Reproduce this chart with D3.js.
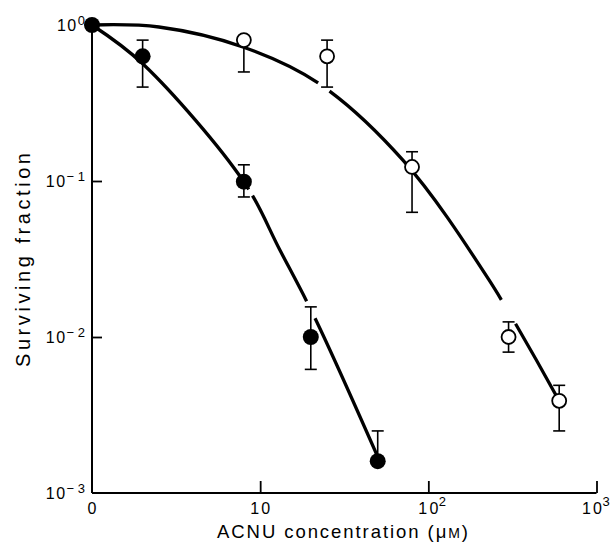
<!DOCTYPE html>
<html>
<head>
<meta charset="utf-8">
<script src="https://cdn.jsdelivr.net/npm/d3@7"></script>
<style>
  html, body { margin: 0; padding: 0; background: #fff; }
  svg { display: block; }
  text { font-family: "Liberation Sans", Arial, Helvetica, sans-serif; fill: #000; }
</style>
</head>
<body>
<svg id="chart" width="612" height="550"></svg>
<script>
// ---------------- data ----------------
// concentration 0 is plotted at the left end of the log axis (value 1)
const filledConc  = [1, 2, 8, 20, 50];
const filledSF    = [1.0, 0.63, 0.099, 0.010, 0.0016];
const filledErrHi = [1.0, 0.80, 0.127, 0.0156, 0.0025];
const filledErrLo = [1.0, 0.40, 0.079, 0.0062, 0.0016];

const openConc  = [8, 25, 80, 300, 600];
const openSF    = [0.80, 0.63, 0.123, 0.010, 0.0039];
const openErrHi = [0.80, 0.80, 0.154, 0.0125, 0.0049];
const openErrLo = [0.50, 0.40, 0.063, 0.0080, 0.0025];

// fitted curves
const filledCurveConc = [1, 2.01, 8.0, 13.1, 21.2, 49.5];
const filledCurveSF   = [1, 0.562, 0.0987, 0.0361, 0.0132, 0.00175];
const openCurveConc = [1, 2.5, 7.9, 22.1, 70.6, 229, 582];
const openCurveSF   = [1, 0.971, 0.723, 0.425, 0.136, 0.0233, 0.00412];
// breaks in the curves (concentration ranges)
const filledGaps = [[8.55, 9.0], [18.9, 21.2]];
const openGaps   = [[22.1, 25.9], [272, 330]];

const xTickValues = [1, 10, 100, 1000];
const xTickBase   = ["0", "10", "10", "10"];
const xTickExp    = ["", "", "2", "3"];
const yTickValues = [1, 0.1, 0.01, 0.001];
const yTickExp    = ["0", "\u2212 1", "\u2212 2", "\u2212 3"];

const xTitle = "ACNU concentration (";
const yTitle = "Surviving fraction";

// ---------------- scales ----------------
const svg = d3.select("#chart");
const x = d3.scaleLog().domain([1, 1000]).range([92, 596.5]);
const y = d3.scaleLog().domain([1, 0.001]).range([25, 493]);

// ---------------- axes ----------------
const xAxis = d3.axisTop(x).tickValues(xTickValues.slice(1)).tickSize(12).tickFormat("");
const gx = svg.append("g").attr("transform", `translate(0,${y(0.001)})`).call(xAxis);
gx.select(".domain").attr("d", `M${x(1)},0H${x(1000)}`);
const yAxis = d3.axisRight(y).tickValues([0.1, 0.01]).tickSize(10).tickFormat("");
const gy = svg.append("g").attr("transform", `translate(${x(1)},0)`).call(yAxis);
gy.select(".domain").attr("d", `M0,${y(1)}V${y(0.001)}`);
svg.selectAll(".domain").attr("stroke", "#000").attr("stroke-width", 2);
svg.selectAll(".tick line").attr("stroke", "#000").attr("stroke-width", 1.8);

// x tick labels
xTickValues.forEach((v, i) => {
  const w = xTickBase[i].length * 10;
  const supW = xTickExp[i] ? 8 : 0;
  const cx = Math.min(x(v), 610 - supW - w / 2);
  svg.append("text").attr("x", cx).attr("y", 514)
    .attr("text-anchor", "middle").attr("font-size", 16)
    .attr("textLength", w).attr("lengthAdjust", "spacing").text(xTickBase[i]);
  if (xTickExp[i]) {
    svg.append("text").attr("x", cx + w / 2 + 0.5).attr("y", 506)
      .attr("font-size", 13).text(xTickExp[i]);
  }
});
// y tick labels
yTickValues.forEach((v, i) => {
  const t = svg.append("text").attr("x", 85).attr("y", y(v) + 6)
    .attr("text-anchor", "end").attr("font-size", 16);
  t.append("tspan").attr("letter-spacing", 1.5).text("10");
  t.append("tspan").attr("dy", -6).attr("font-size", 13).text(yTickExp[i]);
});

// axis titles
const xt = svg.append("text").attr("x", 342.5).attr("y", 538).attr("text-anchor", "middle")
  .attr("font-size", 18.5).attr("textLength", 251).attr("lengthAdjust", "spacing");
xt.append("tspan").text(xTitle);
xt.append("tspan").text("\u03bc");
xt.append("tspan").attr("font-size", 14).text("M");
xt.append("tspan").text(")");
svg.append("text").attr("transform", "translate(30,260) rotate(-90)")
  .attr("text-anchor", "middle").attr("font-size", 20)
  .attr("textLength", 214).attr("lengthAdjust", "spacing").text(yTitle);

// ---------------- curves ----------------
const line = d3.line().x(d => x(d[0])).y(d => y(d[1])).curve(d3.curveCatmullRom.alpha(0.5));
function dashFor(path, gaps) {
  const total = path.getTotalLength();
  function lenAtX(px) {
    let lo = 0, hi = total;
    for (let i = 0; i < 40; i++) {
      const m = (lo + hi) / 2;
      if (path.getPointAtLength(m).x < px) lo = m; else hi = m;
    }
    return lo;
  }
  const arr = []; let pos = 0;
  gaps.forEach(([a, b]) => {
    const s = lenAtX(x(a)), e = lenAtX(x(b));
    arr.push(s - pos, e - s); pos = e;
  });
  arr.push(total - pos + 2, 0);
  return arr.join(" ");
}
function drawCurve(cx, cy, gaps) {
  const p = svg.append("path").datum(cx.map((c, i) => [c, cy[i]]))
    .attr("d", line).attr("fill", "none").attr("stroke", "#000")
    .attr("stroke-width", 3.3).attr("stroke-linecap", "butt");
  p.attr("stroke-dasharray", dashFor(p.node(), gaps));
}
drawCurve(filledCurveConc, filledCurveSF, filledGaps);
drawCurve(openCurveConc, openCurveSF, openGaps);

// ---------------- error bars ----------------
function drawErr(conc, hi, lo) {
  const g = svg.append("g").attr("stroke", "#000").attr("stroke-width", 1.6);
  conc.forEach((c, i) => {
    const px = x(c);
    g.append("line").attr("x1", px).attr("x2", px).attr("y1", y(hi[i])).attr("y2", y(lo[i]));
    if (hi[i] !== lo[i]) {
      [hi[i], lo[i]].forEach(v => {
        g.append("line").attr("x1", px - 6).attr("x2", px + 6).attr("y1", y(v)).attr("y2", y(v));
      });
    }
  });
}
drawErr(filledConc.slice(1), filledErrHi.slice(1), filledErrLo.slice(1));
drawErr(openConc, openErrHi, openErrLo);

// ---------------- points ----------------
svg.append("g").selectAll("circle").data(filledConc).join("circle")
  .attr("cx", d => x(d)).attr("cy", (d, i) => y(filledSF[i])).attr("r", 8).attr("fill", "#000");
svg.append("g").selectAll("circle").data(openConc).join("circle")
  .attr("cx", d => x(d)).attr("cy", (d, i) => y(openSF[i])).attr("r", 7)
  .attr("fill", "#fff").attr("stroke", "#000").attr("stroke-width", 1.8);
</script>
</body>
</html>
